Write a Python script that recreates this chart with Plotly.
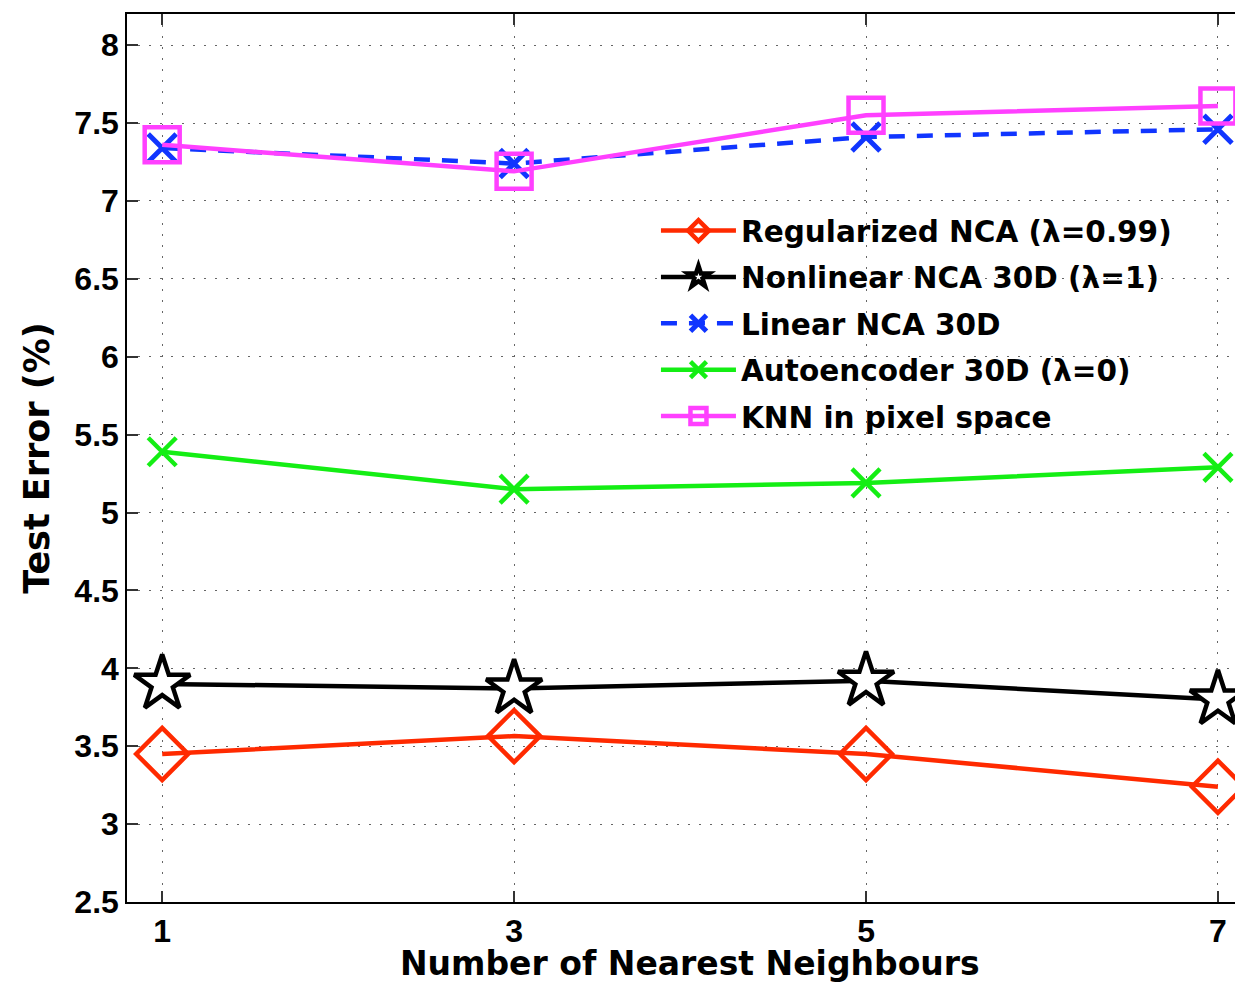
import plotly.graph_objects as go

neighbours = [1, 3, 5, 7]
regularized_nca = [3.45, 3.565, 3.45, 3.24]
nonlinear_nca = [3.90, 3.87, 3.92, 3.80]
linear_nca = [7.34, 7.24, 7.41, 7.46]
autoencoder = [5.39, 5.15, 5.19, 5.29]
knn_pixel = [7.36, 7.19, 7.55, 7.61]

x_ticks = [1, 3, 5, 7]
y_ticks = [2.5, 3, 3.5, 4, 4.5, 5, 5.5, 6, 6.5, 7, 7.5, 8]
y_tick_text = ["2.5", "3", "3.5", "4", "4.5", "5", "5.5", "6", "6.5", "7", "7.5", "8"]
x_title = "Number of Nearest Neighbours"
y_title = "Test Error (%)"

FONT = "Liberation Sans, Arial, Helvetica, sans-serif"
WIDE = "DejaVu Sans, Liberation Sans, Arial, sans-serif"

fig = go.Figure()

fig.add_trace(go.Scatter(
    x=neighbours, y=regularized_nca, name="Regularized NCA (λ=0.99)",
    mode="lines+markers", legendgroup="a", cliponaxis=False,
    line=dict(color="#FF2A00", width=4.5),
    marker=dict(symbol="diamond-open", size=40, color="#FF2A00",
                line=dict(color="#FF2A00", width=4.5)),
))
fig.add_trace(go.Scatter(
    x=neighbours, y=nonlinear_nca, name="Nonlinear NCA 30D (λ=1)",
    mode="lines+markers", legendgroup="b", cliponaxis=False,
    line=dict(color="black", width=4.5),
    marker=dict(symbol="star", size=42, color="white",
                line=dict(color="black", width=4.5)),
))
fig.add_trace(go.Scatter(
    x=neighbours, y=linear_nca, name="Linear NCA 30D",
    mode="lines+markers", legendgroup="c", cliponaxis=False,
    line=dict(color="#1035FF", width=4.5, dash="16px,12px"),
    marker=dict(symbol="x-thin-open", size=28, color="#1035FF",
                line=dict(color="#1035FF", width=5)),
))
fig.add_trace(go.Scatter(
    x=neighbours, y=autoencoder, name="Autoencoder 30D (λ=0)",
    mode="lines+markers", legendgroup="d", cliponaxis=False,
    line=dict(color="#14EE14", width=4.5),
    marker=dict(symbol="x-thin-open", size=28, color="#14EE14",
                line=dict(color="#14EE14", width=4.5)),
))
fig.add_trace(go.Scatter(
    x=neighbours, y=knn_pixel, name="KNN in pixel space",
    mode="lines+markers", legendgroup="e", cliponaxis=False,
    line=dict(color="#FF40FF", width=4.5),
    marker=dict(symbol="square-open", size=35, color="#FF40FF",
                line=dict(color="#FF40FF", width=4.5)),
))

axis_common = dict(
    showline=True, linecolor="black", linewidth=1.5,
    ticks="inside", ticklen=11, tickwidth=1.5, tickcolor="#333",
    showgrid=True, gridcolor="#666", gridwidth=1, griddash="2px,9px",
    zeroline=False, automargin=False,
    tickfont=dict(family=FONT, size=32, color="black", weight="bold"),
)

fig.update_xaxes(
    range=[0.8, 7.097], tickvals=x_ticks, ticktext=[str(v) for v in x_ticks],
    mirror="ticks",
    **axis_common,
)
fig.update_yaxes(
    range=[2.5, 8.2], tickvals=y_ticks, ticktext=y_tick_text,
    title=dict(text=y_title, standoff=14,
               font=dict(family=WIDE, size=35, color="black", weight="bold")),
    **axis_common,
)

fig.add_annotation(
    text=x_title, xref="paper", yref="paper", x=0.508, y=-0.0698,
    xanchor="center", yanchor="middle", showarrow=False,
    font=dict(family=WIDE, size=33, color="black", weight="bold"),
)

fig.update_layout(
    width=1227, height=976,
    margin=dict(l=119, r=0, t=6, b=82),
    paper_bgcolor="white", plot_bgcolor="white",
    showlegend=True,
    legend=dict(
        x=0.4774, y=0.785, xanchor="left", yanchor="top",
        bgcolor="rgba(0,0,0,0)", borderwidth=0,
        itemwidth=75, tracegroupgap=5,
        font=dict(family=WIDE, size=29.5, color="black", weight="bold"),
    ),
)

fig.write_html("out.html")
